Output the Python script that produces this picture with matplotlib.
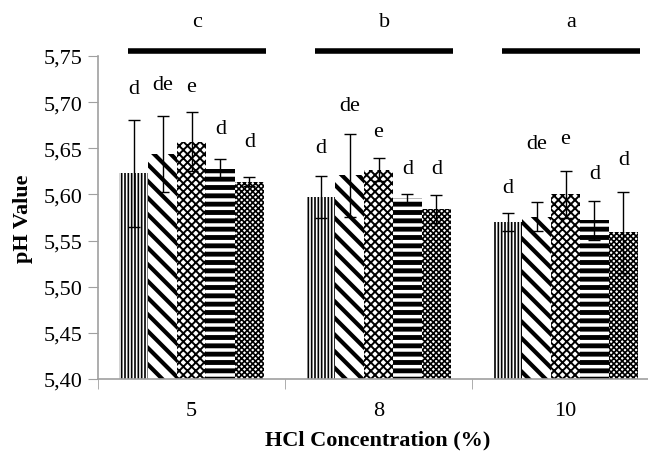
import matplotlib
matplotlib.use("Agg")
import matplotlib.pyplot as plt
import numpy as np

plt.rcParams['font.family'] = ['Liberation Serif', 'DejaVu Serif']

# HCl concentration groups
concentrations = ["5", "8", "10"]
group_letters = ["c", "b", "a"]

# five treatments per concentration (pH means and error)
ph_means = [
    [5.623, 5.644, 5.657, 5.628, 5.614],
    [5.597, 5.621, 5.627, 5.596, 5.584],
    [5.570, 5.576, 5.600, 5.572, 5.559],
]
ph_errors = [
    [0.058, 0.041, 0.032, 0.010, 0.005],
    [0.023, 0.045, 0.012, 0.005, 0.015],
    [0.010, 0.016, 0.025, 0.021, 0.044],
]
bar_letters = [
    ["d", "de", "e", "d", "d"],
    ["d", "de", "e", "d", "d"],
    ["d", "de", "e", "d", "d"],
]
letter_heights = [
    [5.715, 5.719, 5.717, 5.671, 5.657],
    [5.651, 5.696, 5.668, 5.628, 5.628],
    [5.607, 5.655, 5.661, 5.623, 5.638],
]

hatches = ["|||||", "\\\\", "xxxx", "--", "xxxxxx"]
hatch_widths = [1.2, 3.0, 1.4, 3.5, 1.2]

fig = plt.figure(figsize=(6.48, 4.64), dpi=100)
ax = fig.add_axes([98 / 648, 84 / 464, 561 / 648, 323 / 464])

x = np.arange(len(concentrations)) + 0.5
w = 0.155
means = np.array(ph_means)
errs = np.array(ph_errors)

for i in range(5):
    with plt.rc_context({'hatch.linewidth': hatch_widths[i]}):
        ax.bar(x + (i - 2) * w, means[:, i] - 5.40, width=w, bottom=5.40,
               color="white", edgecolor="black", linewidth=0, hatch=hatches[i])
    ax.errorbar(x + (i - 2) * w, means[:, i], yerr=errs[:, i], fmt="none",
                ecolor="black", elinewidth=1, capsize=4, capthick=1)
    for g in range(len(concentrations)):
        ax.text(x[g] + (i - 2) * w, letter_heights[g][i], bar_letters[g][i],
                ha="center", va="center", fontsize=16)

# group significance bars above the plot
for g in range(len(concentrations)):
    ax.plot([x[g] - 0.34, x[g] + 0.40], [5.755, 5.755], color="black",
            lw=4, clip_on=False, solid_capstyle="butt")
    ax.text(x[g] + 0.03, 5.787, group_letters[g], ha="center", va="center",
            fontsize=16)

ax.set_xlim(0, 3)
ax.set_ylim(5.40, 5.75)
ax.set_yticks(np.arange(5.40, 5.751, 0.05))
ax.set_yticklabels([f"{v:.2f}".replace(".", ",") for v in np.arange(5.40, 5.751, 0.05)],
                   fontsize=16)
ax.set_xticks(x)
ax.set_xticklabels(concentrations, fontsize=16)
ax.tick_params(axis="x", which="major", length=0, pad=16)
ax.set_xticks([0, 1, 2, 3], minor=True)
ax.tick_params(axis="x", which="minor", length=7, color="#a0a0a0")
ax.tick_params(axis="y", length=7, color="#a0a0a0", pad=4)

for s in ["top", "right"]:
    ax.spines[s].set_visible(False)
for s in ["left", "bottom"]:
    ax.spines[s].set_color("#a0a0a0")
    ax.spines[s].set_linewidth(1.2)

ax.set_xlabel("HCl Concentration (%)", fontsize=16, fontweight="bold")
ax.set_ylabel("pH Value", fontsize=16, fontweight="bold", labelpad=8)
ax.xaxis.set_label_coords((378 - 98) / 561, -0.155)

fig.savefig("out.png", dpi=100)
